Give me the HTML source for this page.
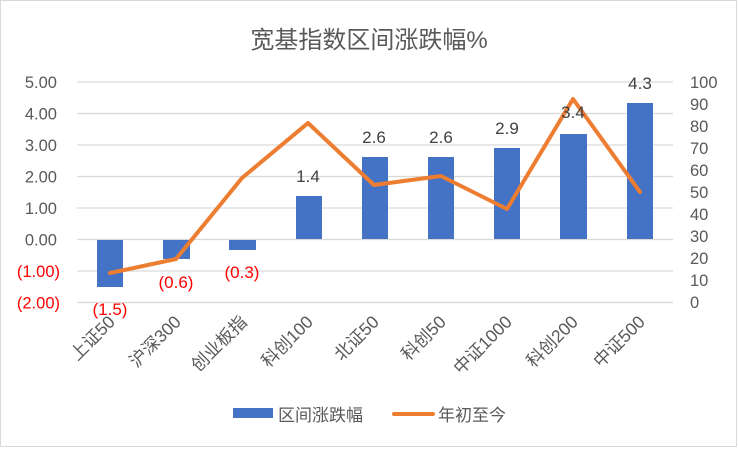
<!DOCTYPE html>
<html><head><meta charset="utf-8"><style>
body{margin:0;background:#fff}
svg text{font-family:"Liberation Sans","Noto Sans CJK SC",sans-serif}
</style></head><body>
<svg width="738" height="448" xmlns="http://www.w3.org/2000/svg">
<rect x="0.5" y="0.5" width="736" height="446" fill="#fff" stroke="#d9d9d9"/>
<text x="369" y="48" font-size="24" fill="#595959" text-anchor="middle">宽基指数区间涨跌幅%</text>
<g stroke="#d9d9d9" stroke-width="1.3">
<line x1="77" x2="673" y1="82" y2="82"/><line x1="77" x2="673" y1="113.5" y2="113.5"/>
<line x1="77" x2="673" y1="145" y2="145"/><line x1="77" x2="673" y1="176.5" y2="176.5"/>
<line x1="77" x2="673" y1="208" y2="208"/><line x1="77" x2="673" y1="239.5" y2="239.5"/>
<line x1="77" x2="673" y1="271" y2="271"/><line x1="77" x2="673" y1="302.5" y2="302.5"/>
</g>
<g font-size="16.5" fill="#595959" text-anchor="end">
<text x="57" y="88">5.00</text><text x="57" y="119.5">4.00</text><text x="57" y="151">3.00</text>
<text x="57" y="182.5">2.00</text><text x="57" y="214">1.00</text><text x="57" y="245.5">0.00</text>
<text x="60" y="277" fill="#f00">(1.00)</text><text x="60" y="308.5" fill="#f00">(2.00)</text>
</g>
<g font-size="16.5" fill="#595959">
<text x="690" y="88">100</text><text x="690" y="110">90</text><text x="690" y="132">80</text>
<text x="690" y="154">70</text><text x="690" y="176">60</text><text x="690" y="198">50</text>
<text x="690" y="220">40</text><text x="690" y="242">30</text><text x="690" y="264">20</text>
<text x="690" y="286">10</text><text x="690" y="308">0</text>
</g>
<g fill="#4472c4">
<rect x="97" y="240" width="26" height="47"/>
<rect x="163" y="240" width="27" height="19"/>
<rect x="229" y="240" width="27" height="10"/>
<rect x="296" y="196" width="26" height="43"/>
<rect x="362" y="157" width="26" height="82"/>
<rect x="428" y="157" width="26" height="82"/>
<rect x="494" y="148" width="26" height="91"/>
<rect x="560" y="134" width="27" height="105"/>
<rect x="627" y="103" width="26" height="136"/>
</g>
<polyline fill="none" stroke="#ed7d31" stroke-width="4" stroke-linejoin="round" stroke-linecap="round"
points="110,273 176,259 242,178 308,123 374,185 441,176 507,209 573,99 640,192"/>
<g font-size="17" text-anchor="middle" fill="#404040">
<text x="110" y="315" fill="#f00">(1.5)</text>
<text x="176" y="288" fill="#f00">(0.6)</text>
<text x="242" y="278" fill="#f00">(0.3)</text>
<text x="308" y="182">1.4</text><text x="374" y="143">2.6</text><text x="441" y="143">2.6</text>
<text x="507" y="134">2.9</text><text x="573" y="118">3.4</text><text x="640" y="89">4.3</text>
</g>
<g font-size="17.5" fill="#595959" text-anchor="end">
<text transform="translate(116,323) rotate(-45)">上证50</text>
<text transform="translate(182,323) rotate(-45)">沪深300</text>
<text transform="translate(248,323) rotate(-45)">创业板指</text>
<text transform="translate(314,323) rotate(-45)">科创100</text>
<text transform="translate(380,323) rotate(-45)">北证50</text>
<text transform="translate(447,323) rotate(-45)">科创50</text>
<text transform="translate(513,323) rotate(-45)">中证1000</text>
<text transform="translate(579,323) rotate(-45)">科创200</text>
<text transform="translate(646,323) rotate(-45)">中证500</text>
</g>
<rect x="233" y="408" width="40" height="10" fill="#4472c4"/>
<text x="278" y="421" font-size="17" fill="#595959">区间涨跌幅</text>
<line x1="394" x2="433" y1="414" y2="414" stroke="#ed7d31" stroke-width="4" stroke-linecap="round"/>
<text x="438" y="421" font-size="17" fill="#595959">年初至今</text>
</svg>
</body></html>
